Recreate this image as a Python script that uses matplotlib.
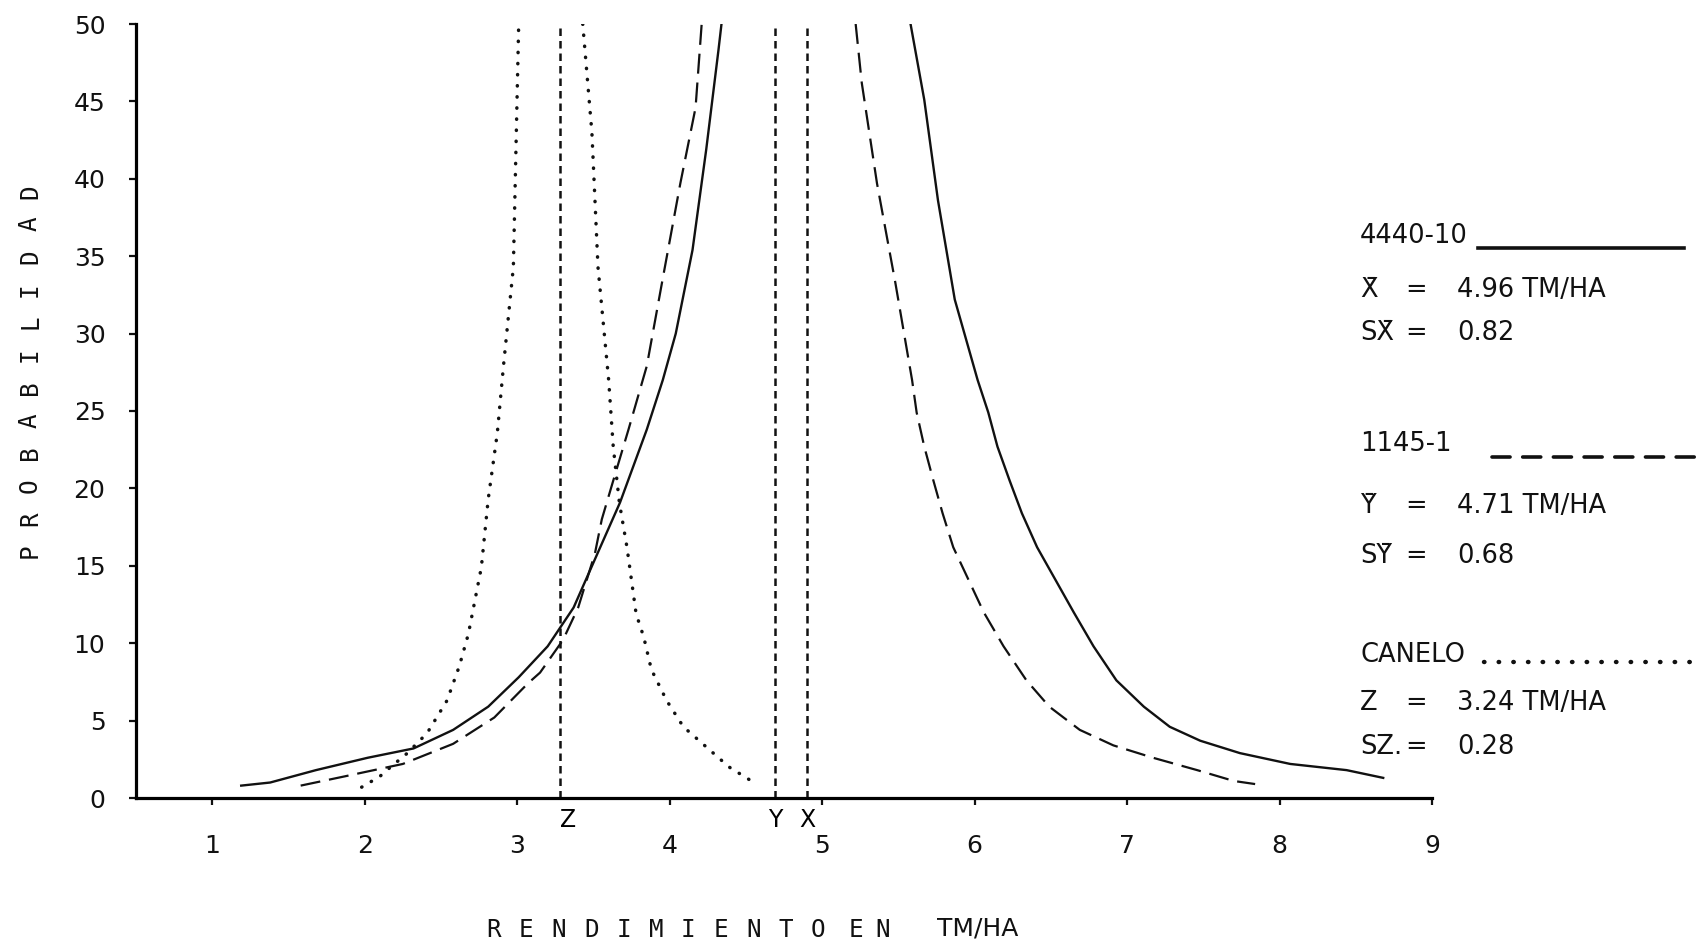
import matplotlib
matplotlib.use('Agg')
import matplotlib.pyplot as plt
from matplotlib.lines import Line2D

W, H = 1702, 948

# ---- valores ----
ticks_x = [1, 2, 3, 4, 5, 6, 7, 8, 9]
ticks_y = [0, 5, 10, 15, 20, 25, 30, 35, 40, 45, 50]

# 4440-10 (linea continua)
x_4440_izq = [1.19, 1.38, 1.68, 2.02, 2.32, 2.58, 2.81, 3.01, 3.20, 3.37, 3.50, 3.675, 3.85, 3.955, 4.04, 4.15, 4.24, 4.32, 4.34]
y_4440_izq = [0.8, 1.0, 1.8, 2.6, 3.2, 4.4, 5.9, 7.8, 9.8, 12.3, 15.2, 19.1, 23.8, 27.0, 30.0, 35.4, 41.9, 48.3, 50]
x_4440_der = [5.58, 5.67, 5.76, 5.87, 6.02, 6.09, 6.15, 6.23, 6.31, 6.41, 6.53, 6.65, 6.78, 6.93, 7.11, 7.28, 7.48, 7.74, 8.07, 8.44, 8.68]
y_4440_der = [50, 45.1, 38.6, 32.2, 27.0, 24.9, 22.7, 20.5, 18.4, 16.2, 14.1, 12.0, 9.8, 7.6, 5.9, 4.6, 3.7, 2.9, 2.2, 1.8, 1.3]

# 1145-1 (linea de trazos)
x_1145_izq = [1.58, 1.87, 2.25, 2.58, 2.85, 3.07, 3.15, 3.30, 3.40, 3.51, 3.555, 3.63, 3.73, 3.85, 3.95, 4.07, 4.17, 4.21]
y_1145_izq = [0.8, 1.4, 2.2, 3.5, 5.2, 7.4, 8.1, 10.2, 12.3, 15.8, 18.0, 20.5, 23.8, 27.9, 33.3, 39.7, 44.6, 50]
x_1145_der = [5.22, 5.26, 5.36, 5.48, 5.59, 5.62, 5.67, 5.73, 5.79, 5.86, 5.96, 6.06, 6.19, 6.34, 6.49, 6.69, 6.91, 7.17, 7.46, 7.70, 7.84]
y_1145_der = [50, 46.2, 39.7, 33.3, 27.0, 24.9, 22.7, 20.5, 18.4, 16.2, 14.1, 12.0, 9.8, 7.6, 5.9, 4.4, 3.4, 2.6, 1.8, 1.1, 0.9]

# CANELO (linea punteada)
x_canelo_izq = [1.98, 2.10, 2.17, 2.28, 2.41, 2.54, 2.62, 2.68, 2.765, 2.81, 2.87, 2.91, 2.975, 3.01]
y_canelo_izq = [0.7, 1.4, 2.0, 2.9, 4.2, 6.3, 8.5, 10.6, 14.9, 19.3, 23.6, 27.9, 34.3, 50]
x_canelo_der = [3.43, 3.49, 3.53, 3.60, 3.63, 3.67, 3.72, 3.78, 3.83, 3.88, 3.98, 4.09, 4.24, 4.39, 4.52]
y_canelo_der = [50, 43.0, 34.3, 27.0, 22.7, 19.1, 16.2, 11.9, 10.4, 8.3, 6.3, 4.6, 3.3, 2.0, 1.2]

# medias marcadas en el eje
medias_nombre = ['Z', 'Y', 'X']
medias_pos = [3.28, 4.69, 4.90]

# texto de la leyenda
leyenda_nombre = ['4440-10', '1145-1', 'CANELO']
leyenda_media = ['X\u0304', 'Y\u0304', 'Z\u0304']
leyenda_valor = ['4.96 TM/HA', '4.71 TM/HA', '3.24 TM/HA']
leyenda_s = ['SX\u0304', 'SY\u0304', 'SZ\u0304.']
leyenda_sval = ['0.82', '0.68', '0.28']

plt.rcParams['font.family'] = ['DejaVu Sans']

fig = plt.figure(figsize=(W / 100, H / 100), dpi=100)
ax = fig.add_axes([136 / W, 1 - 798 / H, 1296 / W, 774 / H])

negro = '#111111'
solido = dict(color=negro, lw=1.7)
trazos = dict(color=negro, lw=1.6, linestyle=(0, (9, 4)))
puntos = dict(color=negro, lw=2.5, linestyle=(0, (0.1, 3.1)), dash_capstyle='round')

ax.plot(x_4440_izq, y_4440_izq, **solido)
ax.plot(x_4440_der, y_4440_der, **solido)
ax.plot(x_1145_izq, y_1145_izq, **trazos)
ax.plot(x_1145_der, y_1145_der, **trazos)
ax.plot(x_canelo_izq, y_canelo_izq, **puntos)
ax.plot(x_canelo_der, y_canelo_der, **puntos)

ax.vlines(medias_pos, 0, 50, colors=negro, lw=1.8, linestyles=[(0, (3, 2))])
for nombre, pos in zip(medias_nombre, medias_pos):
    ha = 'left' if nombre == 'Z' else 'center'
    ax.text(pos, -1.4, nombre, ha=ha, va='center', fontsize=17, clip_on=False)

ax.set_xlim(0.5, 9.0)
ax.set_ylim(0, 50)
ax.set_xticks(ticks_x)
ax.set_yticks(ticks_y)
ax.spines['top'].set_visible(False)
ax.spines['right'].set_visible(False)
ax.spines['left'].set_linewidth(2.3)
ax.spines['bottom'].set_linewidth(2.3)
ax.tick_params(axis='both', direction='out', length=5, width=1.6, labelsize=18, colors=negro)
ax.tick_params(axis='x', pad=21)
ax.tick_params(axis='y', pad=17)


def letras(cadena, x0, y0, paso, vertical=False, **kw):
    # titulos de eje escritos a maquina, letra por letra
    for i, c in enumerate(cadena):
        if vertical:
            fig.text(x0 / W, 1 - (y0 - i * paso) / H, c, rotation=90,
                     ha='center', va='center', **kw)
        else:
            fig.text((x0 + i * paso) / W, 1 - y0 / H, c,
                     ha='center', va='center', **kw)


mono = dict(family='DejaVu Sans Mono', fontsize=17.5, color=negro)
letras('PROBABILIDAD', 30, 551, 32.7, vertical=True, **mono)
letras('RENDIMIENTO', 494, 930, 32.4, **mono)
letras('EN', 856, 930, 27, **mono)
fig.text(978 / W, 1 - 929 / H, 'TM/HA', ha='center', va='center', fontsize=18, color=negro)

# leyenda a la derecha
fila_nombre = [236, 444, 655]
fila_media = [290, 506, 703]
fila_s = [333, 556, 747]
muestras = [dict(xdata=[1478, 1684], y=248, lw=2.6, ls='-'),
            dict(xdata=[1492, 1702], y=457, lw=2.6, ls=(0, (5, 3.5))),
            dict(xdata=[1484, 1702], y=662, lw=3.2, ls=(0, (0.1, 3.2)))]

txt = dict(fontsize=18.5, color=negro, va='center')
for i in range(3):
    fig.text(1360 / W, 1 - fila_nombre[i] / H, leyenda_nombre[i], ha='left', **txt)
    fig.text(1360 / W, 1 - fila_media[i] / H, leyenda_media[i], ha='left', **txt)
    fig.text(1416 / W, 1 - fila_media[i] / H, '=', ha='center', **txt)
    fig.text(1457 / W, 1 - fila_media[i] / H, leyenda_valor[i], ha='left', **txt)
    fig.text(1360 / W, 1 - fila_s[i] / H, leyenda_s[i], ha='left', **txt)
    fig.text(1416 / W, 1 - fila_s[i] / H, '=', ha='center', **txt)
    fig.text(1457 / W, 1 - fila_s[i] / H, leyenda_sval[i], ha='left', **txt)
    m = muestras[i]
    fig.add_artist(Line2D([m['xdata'][0] / W, m['xdata'][1] / W], [1 - m['y'] / H] * 2,
                          transform=fig.transFigure, color=negro, lw=m['lw'],
                          linestyle=m['ls'], dash_capstyle='round'))

fig.savefig('out.png', dpi=100)
